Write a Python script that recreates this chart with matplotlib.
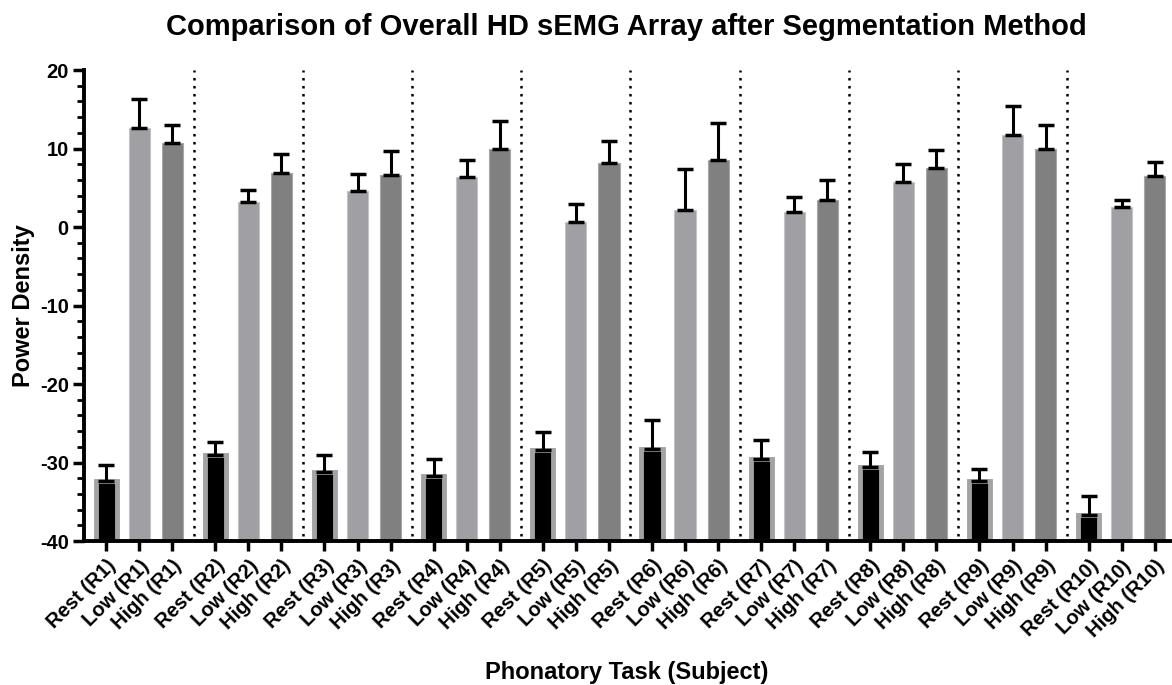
import matplotlib
matplotlib.use("Agg")
import matplotlib.pyplot as plt
from matplotlib.ticker import MultipleLocator
import numpy as np

plt.rcParams['font.family'] = ['Liberation Sans', 'DejaVu Sans']
plt.rcParams['font.weight'] = 'bold'
plt.rcParams['axes.unicode_minus'] = False

subjects = [f"R{i}" for i in range(1, 11)]
tasks = ["Rest", "Low", "High"]

rest_mean = [-32.4, -29.1, -31.2, -31.7, -28.4, -28.3, -29.5, -30.6, -32.4, -36.7]
rest_sd = [2.1, 1.7, 2.2, 2.1, 2.3, 3.7, 2.4, 2.0, 1.6, 2.4]
low_mean = [12.65, 3.22, 4.56, 6.32, 0.65, 2.12, 1.97, 5.78, 11.7, 2.51]
low_sd = [3.6, 1.5, 2.25, 2.2, 2.25, 5.3, 1.8, 2.25, 3.76, 0.9]
high_mean = [10.66, 6.84, 6.66, 9.94, 8.13, 8.57, 3.49, 7.54, 9.94, 6.52]
high_sd = [2.3, 2.4, 3.0, 3.6, 2.8, 4.7, 2.45, 2.3, 3.1, 1.8]

baseline = -40
group_step = 3.3
bar_w = 0.64

fig = plt.figure(figsize=(11.72, 6.85), dpi=100)
ax = fig.add_axes([0.0717, 0.2102, 0.9263, 0.6876])

group_x = np.arange(len(subjects)) * group_step
series = [
    (rest_mean, rest_sd, dict(color="black", edgecolor="#a3a3a6", linewidth=3.5)),
    (low_mean, low_sd, dict(color="#a0a0a4", edgecolor="#c4c4c6", linewidth=0.8)),
    (high_mean, high_sd, dict(color="#808080", edgecolor="#a8a8a8", linewidth=0.8)),
]

positions, labels = [], []
for k, (means, sds, style) in enumerate(series):
    x = group_x + k
    heights = np.array(means) - baseline
    ax.bar(x, heights, width=bar_w, bottom=baseline, zorder=2, **style)
    ax.errorbar(x, means, yerr=[np.zeros(len(sds)), sds], fmt="none",
                ecolor="black", elinewidth=2.2, capsize=6, capthick=2.5, zorder=3)
    positions.extend(x)
    labels.extend(f"{tasks[k]} ({s})" for s in subjects)

order = np.argsort(positions)
positions = np.array(positions)[order]
labels = [labels[i] for i in order]

# dotted separators between subjects
for g in range(len(subjects) - 1):
    xs = group_x[g] + 2 + (group_step - 2) / 2
    ax.plot([xs, xs], [-39.3, 20], color="black", linestyle=(0, (1, 2.2)),
            linewidth=1.8, zorder=1)

ax.set_xlim(-0.667, group_x[-1] + 2 + 0.45)
ax.set_ylim(-40, 20)
ax.yaxis.set_major_locator(MultipleLocator(10))
ax.yaxis.set_minor_locator(MultipleLocator(2))

for side in ("top", "right"):
    ax.spines[side].set_visible(False)
for side in ("left", "bottom"):
    ax.spines[side].set_linewidth(2.8)

ax.tick_params(axis="y", which="major", direction="out", length=8, width=2.5,
               labelsize=14.5, pad=3)
ax.tick_params(axis="y", which="minor", direction="out", length=5, width=2)
ax.tick_params(axis="x", which="major", direction="out", length=7, width=2.5,
               labelsize=14.5, pad=4)

ax.set_xticks(positions)
ax.set_xticklabels(labels, rotation=45, ha="right", rotation_mode="anchor",
                   fontweight="bold")
for t in ax.get_yticklabels():
    t.set_fontweight("bold")

ax.set_ylabel("Power Density", fontsize=17, fontweight="bold")
ax.yaxis.set_label_coords(-0.045, 0.5)
ax.set_xlabel("Phonatory Task (Subject)", fontsize=17, fontweight="bold")
ax.xaxis.set_label_coords(0.5, -0.255)
ax.set_title("Comparison of Overall HD sEMG Array after Segmentation Method",
             fontsize=21, fontweight="bold", pad=25)

fig.savefig("out.png", dpi=100)
